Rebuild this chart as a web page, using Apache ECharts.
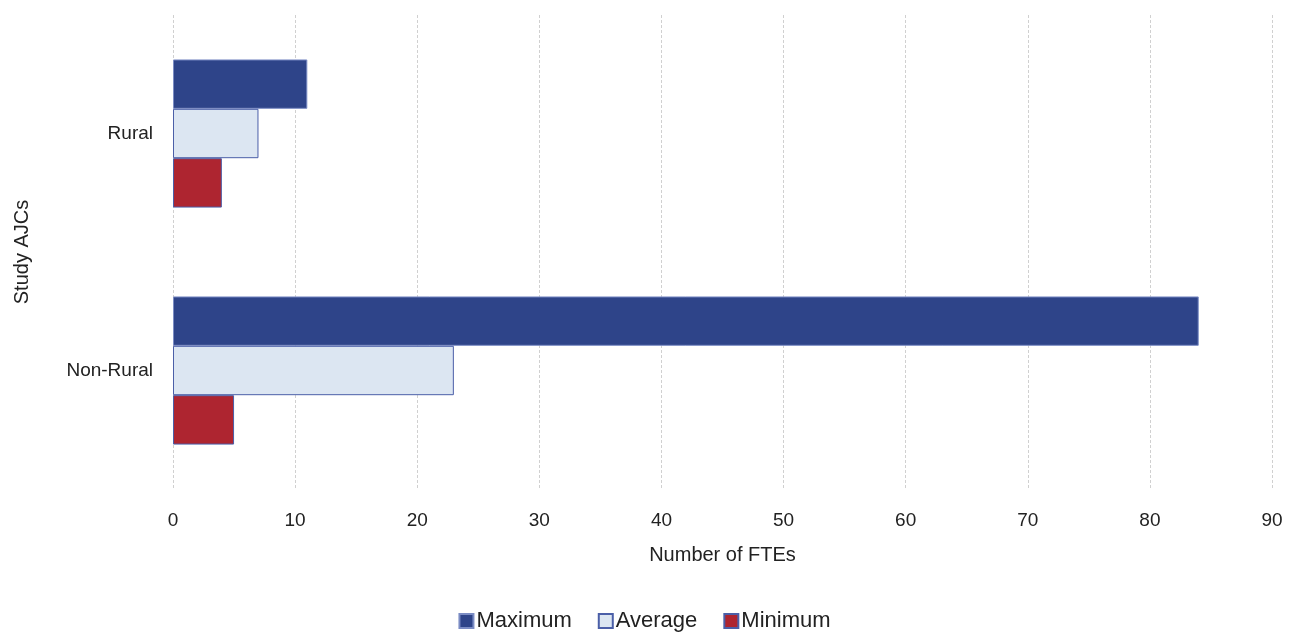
<!DOCTYPE html>
<html><head><meta charset="utf-8">
<script src="https://cdn.jsdelivr.net/npm/echarts@6/dist/echarts.min.js"></script>
<style>html,body{margin:0;padding:0;background:#fff}#c{width:1289px;height:632px}</style>
</head><body><div id="c"></div>
<script>
const categories = ["Rural", "Non-Rural"];
const seriesNames = ["Maximum", "Average", "Minimum"];
const maximum = [11, 84];
const average = [7, 23];
const minimum = [4, 5];
const colors = ["#2E4489", "#DCE6F2", "#AE2530"];
const chart = echarts.init(document.getElementById('c'));
const font = "'Liberation Sans', Arial, sans-serif";
const vals = [maximum, average, minimum];
chart.setOption({
  animation: false,
  textStyle: {fontFamily: font},
  grid: {left: 173, right: 17, top: 15, bottom: 143},
  legend: {
    bottom: -5, left: 'center', itemWidth: 14, itemHeight: 14, itemGap: 26,
    icon: 'rect',
    textStyle: {fontSize: 22, color: '#222', fontFamily: font, padding: [0,0,0,-2]},
    data: seriesNames
  },
  xAxis: {
    type: 'value', min: 0, max: 90, interval: 10,
    name: 'Number of FTEs', nameLocation: 'middle', nameGap: 56,
    nameTextStyle: {fontSize: 20, color: '#222', fontFamily: font},
    axisLine: {show: false}, axisTick: {show: false},
    axisLabel: {fontSize: 19, color: '#222', margin: 22, fontFamily: font},
    splitLine: {show: true, lineStyle: {color: '#d0d0d0', type: [3, 2], width: 1}}
  },
  yAxis: {
    type: 'category', data: categories, inverse: true,
    name: 'Study AJCs', nameLocation: 'middle', nameGap: 141, nameRotate: 90,
    nameTextStyle: {fontSize: 20, color: '#222', fontFamily: font},
    axisLine: {show: false}, axisTick: {show: false},
    axisLabel: {fontSize: 19, color: '#222', margin: 20, fontFamily: font},
    splitLine: {show: false}
  },
  series: seriesNames.map((n, i) => ({
    name: n, type: 'bar', data: vals[i],
    barGap: '0%', barCategoryGap: '37.5%',
    itemStyle: {color: colors[i], borderColor: i === 0 ? '#7b8cc4' : '#4B5FA8', borderWidth: 1}
  }))
});
</script></body></html>
